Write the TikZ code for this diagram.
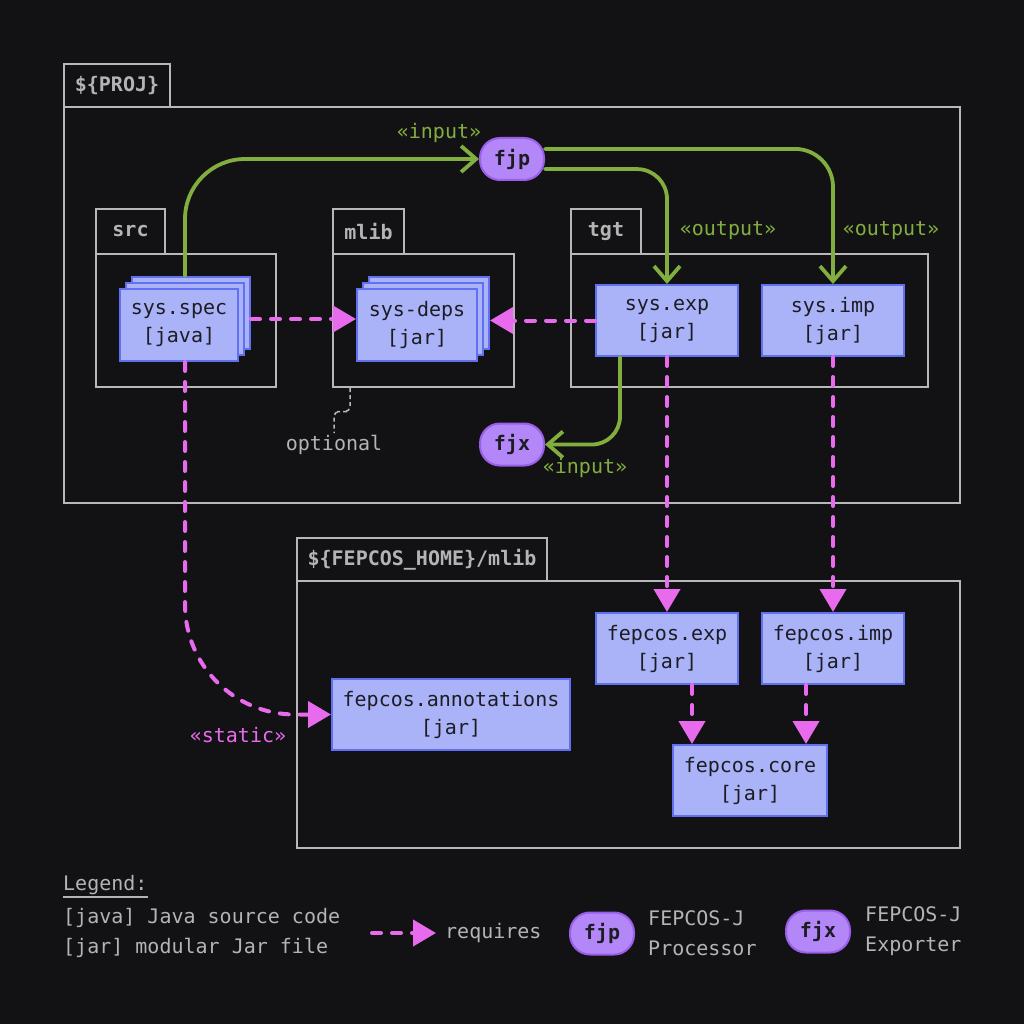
\documentclass[tikz,border=0pt]{standalone}
\usepackage{fontspec}
\setmainfont{DejaVu Sans Mono}
\usetikzlibrary{calc,arrows.meta}

\definecolor{bgc}{HTML}{121214}
\definecolor{framec}{HTML}{B8B8B8}
\definecolor{textc}{HTML}{B4B4B4}
\definecolor{inkc}{HTML}{1C1C24}
\definecolor{boxfill}{HTML}{ABB3F8}
\definecolor{boxline}{HTML}{6070F0}
\definecolor{pillfill}{HTML}{B487F8}
\definecolor{pillline}{HTML}{9A5EEA}
\definecolor{flowc}{HTML}{82AE40}
\definecolor{reqc}{HTML}{E86BEE}

\begin{document}
\begin{tikzpicture}[
  x=1pt, y=-1pt,
  every node/.style={font=\fontsize{20}{28}\selectfont, inner sep=0pt},
  frame/.style={draw=framec, line width=2pt},
  tab/.style={frame, font=\fontsize{20}{28}\selectfont\bfseries, text=textc},
  jar/.style={draw=boxline, fill=boxfill, line width=2pt, text=inkc, align=center,
    minimum width=142, minimum height=71},
  stack/.style={jar, minimum width=118, minimum height=72},
  tool/.style={draw=pillline, fill=pillfill, line width=2pt, rounded corners=20pt,
    minimum width=64, minimum height=42, font=\fontsize{20}{28}\selectfont\bfseries, text=inkc},
  flow/.style={draw=flowc, line width=3.8pt, line cap=round, -{Straight Barb[length=15pt,width=26pt]}},
  req/.style={draw=reqc, line width=4pt, line cap=round, dash pattern=on 9pt off 11pt,
    -{Triangle[length=23pt,width=26pt]}},
  note/.style={draw=framec, line width=1.5pt, dash pattern=on 4pt off 3pt},
  flowlbl/.style={text=flowc},
  reqlbl/.style={text=reqc},
  legend/.style={text=textc, anchor=west, align=left}
]
\fill[bgc] (0,0) rectangle (1024,1024);
\useasboundingbox (0,0) rectangle (1024,1024);

% folders
\node[tab, minimum width=106, minimum height=43] (projtab) at (117,85.5) {\$\{PROJ\}};
\draw[frame] (64,107) rectangle (960,503);
\node[tab, minimum width=69, minimum height=45] (srctab) at (130.5,231.5) {src};
\draw[frame] (96,254) rectangle (276,387);
\node[tab, minimum width=71, minimum height=45] (mlibtab) at (368.5,231.5) {mlib};
\draw[frame] (333,254) rectangle (514,387);
\node[tab, minimum width=70, minimum height=45] (tgttab) at (606,231.5) {tgt};
\draw[frame] (571,254) rectangle (928,387);
\node[tab, minimum width=250, minimum height=43] (hometab) at (422,559.5) {\$\{FEPCOS\_HOME\}/mlib};
\draw[frame] (297,581) rectangle (960,848);

% modules
\node[stack] (specC) at (191,313) {};
\node[stack] (specB) at (185,319) {};
\node[stack] (spec) at (179,325) {sys.spec\\{[java]}};
\node[stack, minimum width=120] (depsC) at (429,313) {};
\node[stack, minimum width=120] (depsB) at (423,319) {};
\node[stack, minimum width=120] (deps) at (417,325) {sys-deps\\{[jar]}};
\node[jar] (sysexp) at (667,320.5) {sys.exp\\{[jar]}};
\node[jar] (sysimp) at (833,320.5) {sys.imp\\{[jar]}};
\node[jar] (fexp) at (667,648.5) {fepcos.exp\\{[jar]}};
\node[jar] (fimp) at (833,648.5) {fepcos.imp\\{[jar]}};
\node[jar, minimum width=238] (annot) at (451,714.5) {fepcos.annotations\\{[jar]}};
\node[jar, minimum width=154] (core) at (750,780.5) {fepcos.core\\{[jar]}};

% tools
\node[tool] (fjp) at (512,159) {fjp};
\node[tool] (fjx) at (512,444.5) {fjx};

% processing
\draw[flow, rounded corners=60pt] (specB.north |- specC.north) |- (fjp.west);
\draw[flow, rounded corners=30pt] (fjp.-17) -| (sysexp.north);
\draw[flow, rounded corners=38pt] (fjp.17) -| (sysimp.north);
\draw[flow, rounded corners=28pt] ([xshift=-47pt]sysexp.south) |- (fjx.east);
\node[flowlbl] (inlbl) at (439,133) {«input»};
\node[flowlbl] (outexp) at (728,231) {«output»};
\node[flowlbl] (outimp) at (891,231) {«output»};
\node[flowlbl] (inlblx) at (585,468) {«input»};

% requires
\draw[req] (specC.east |- specB.east) -- (deps.west |- specB.east);
\draw[req] (sysexp.west) -- (depsC.east |- sysexp.west);
\draw[req] (sysexp.south) -- (fexp.north);
\draw[req] (sysimp.south) -- (fimp.north);
\draw[req] ([xshift=25pt]fexp.south) -- ([xshift=25pt]fexp.south |- core.north);
\draw[req] ([xshift=-27pt]fimp.south) -- ([xshift=-27pt]fimp.south |- core.north);
\draw[req, rounded corners=110pt] (specB.south |- spec.south) |- (annot.west);
\node[reqlbl] (staticlbl) at (238,735) {«static»};

% optional note
\coordinate (optstart) at (350,388);
\node[text=textc] (optlab) at (334,445) {optional};
\draw[note, rounded corners=5pt] (optstart) |- ($(optstart)!0.5!(optlab.north)$) -| ([yshift=2pt]optlab.north);

% legend
\node[legend] (lgd) at (63,885) {Legend:};
\draw[draw=textc, line width=2pt] ([yshift=-7pt]lgd.base west) -- ([yshift=-7pt]lgd.base east);
\node[legend] (lgjava) at (63,918) {[java] Java source code};
\node[legend] (lgjar) at (63,948) {[jar] modular Jar file};
\coordinate (lgstart) at (372,933);
\node[legend] (lgreq) at (445,933) {requires};
\draw[req] (lgstart) -- ([xshift=-9pt]lgreq.west);
\node[tool] (lgfjp) at (602,933.5) {fjp};
\node[legend] (lgfjptxt) at (648,933) {FEPCOS-J\\[2pt]Processor};
\node[tool] (lgfjx) at (818,931.5) {fjx};
\node[legend] (lgfjxtxt) at (865,931) {FEPCOS-J\\[2pt]Exporter};
\end{tikzpicture}
\end{document}
